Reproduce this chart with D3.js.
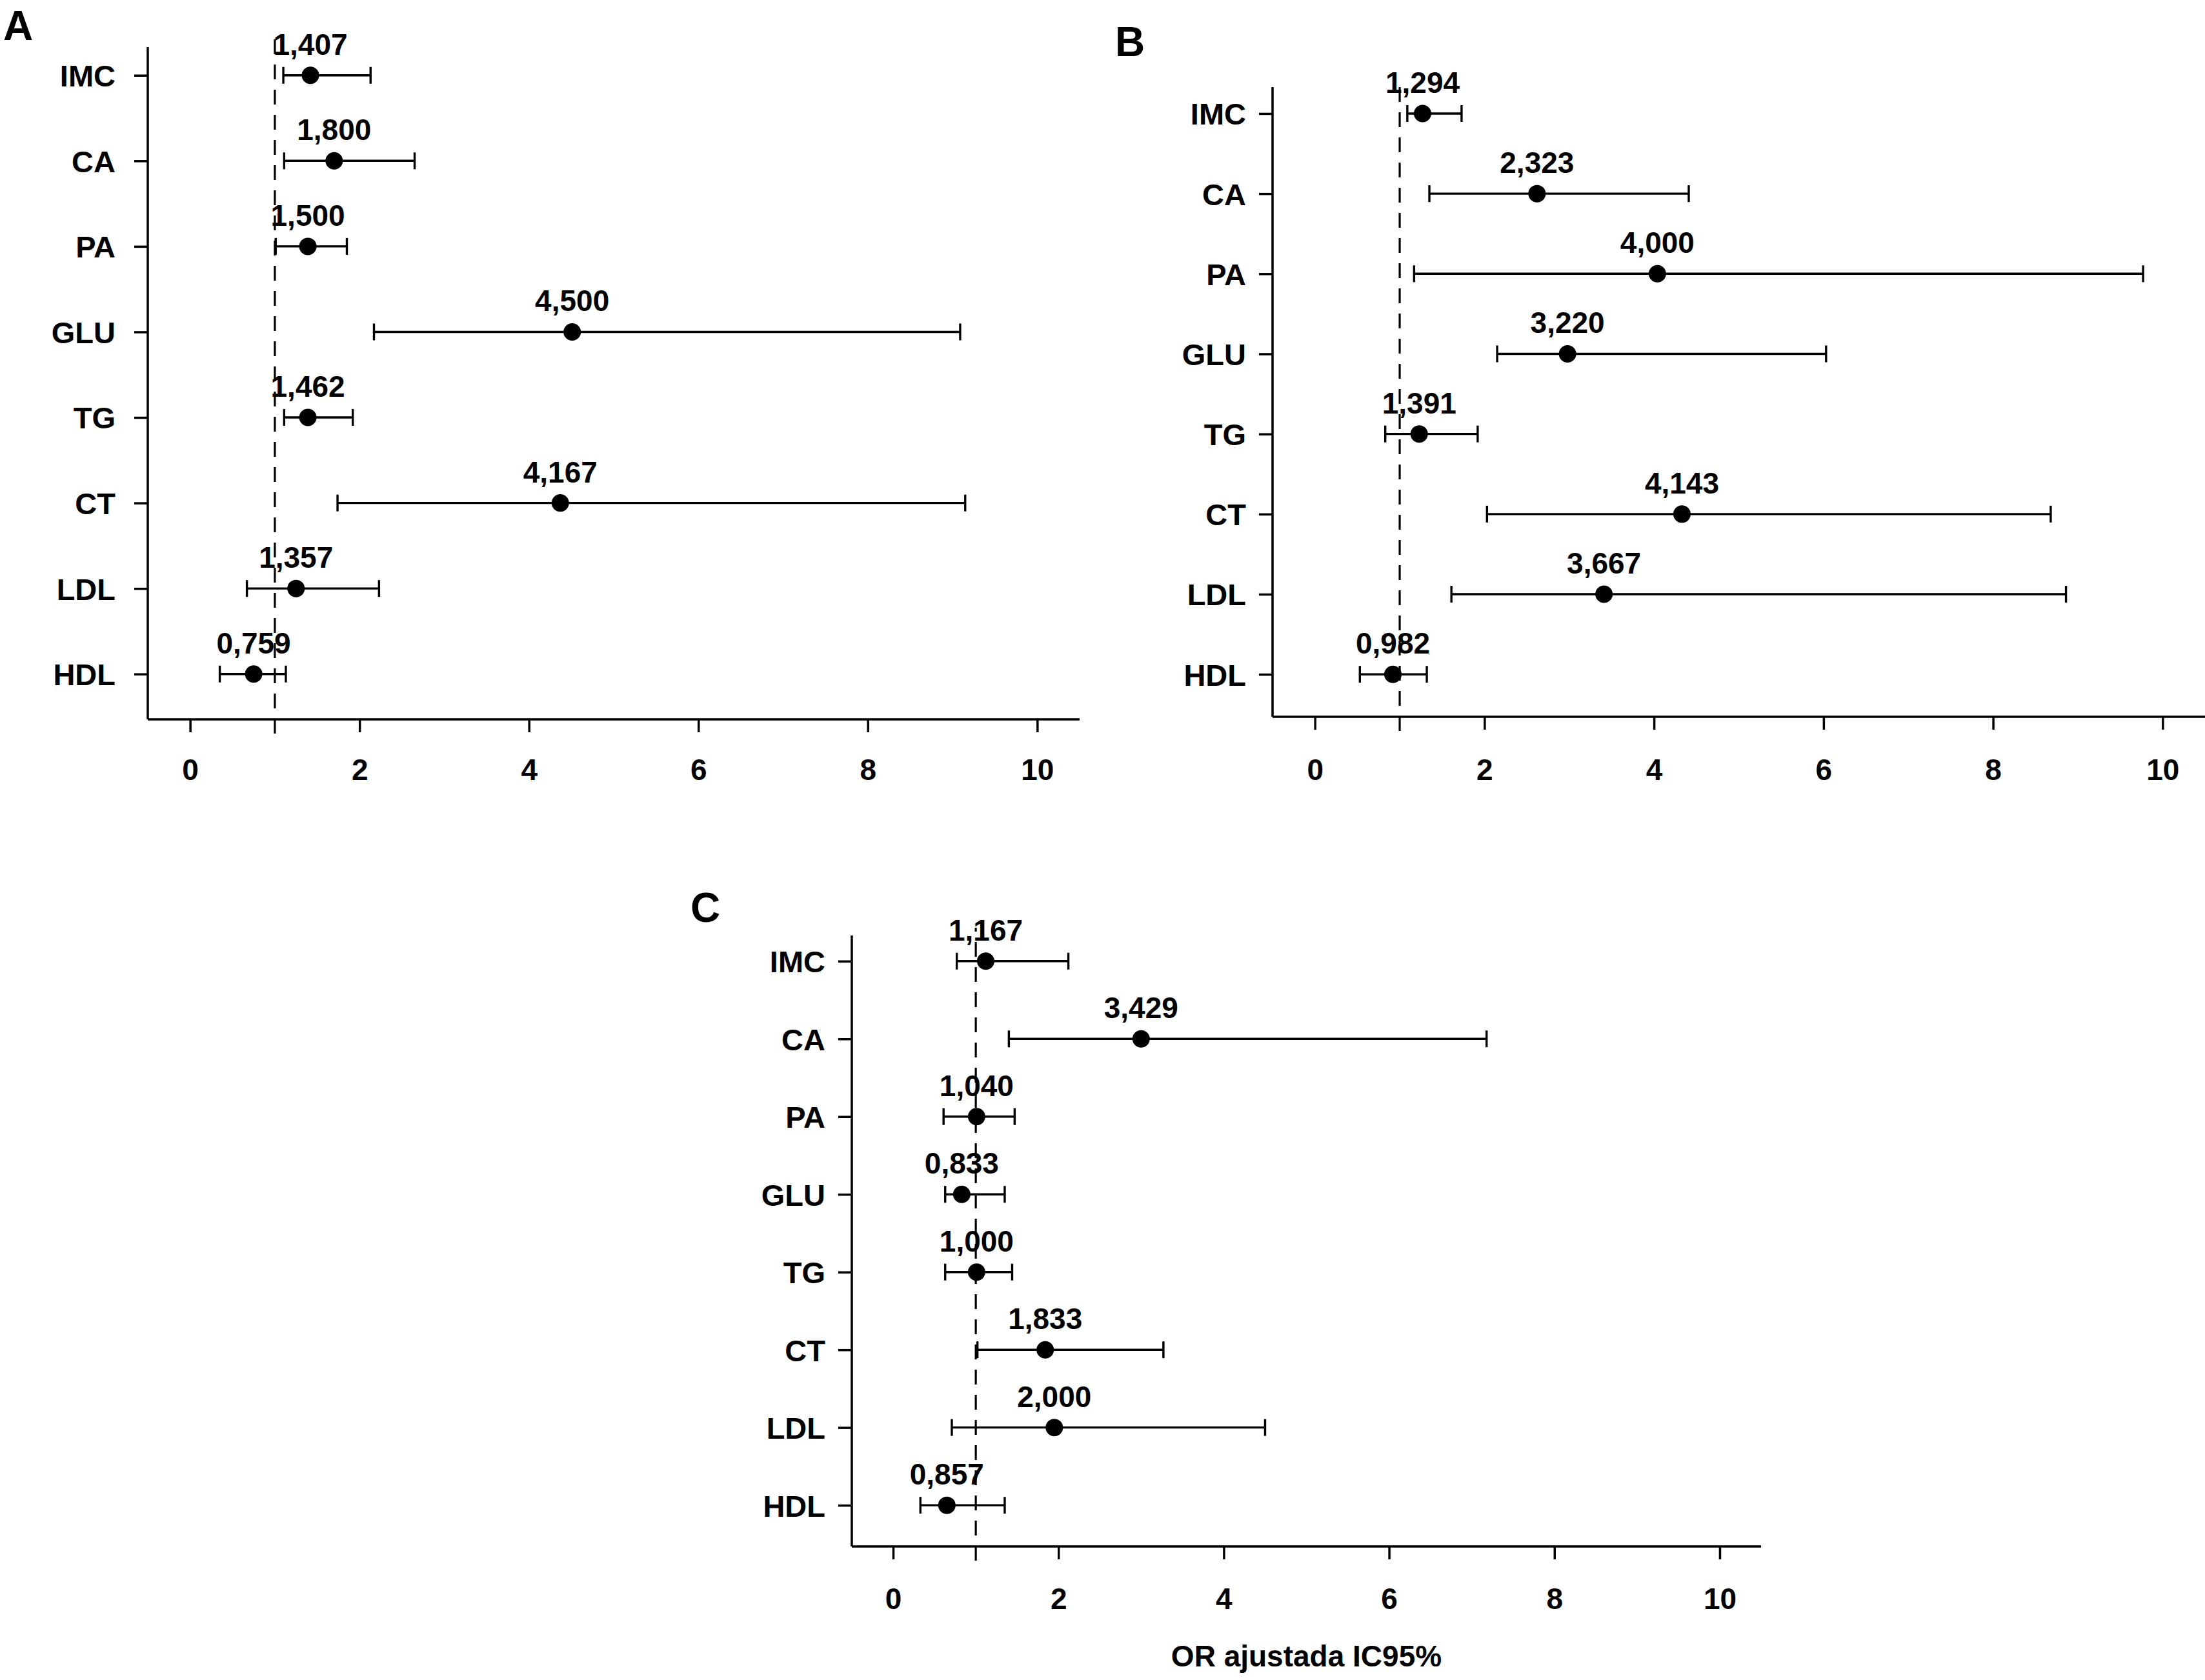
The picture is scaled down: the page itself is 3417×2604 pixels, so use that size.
<!DOCTYPE html>
<html>
<head>
<meta charset="utf-8">
<script src="https://cdn.jsdelivr.net/npm/d3@7"></script>
<style>
  body { margin: 0; background: #fff; }
  text { font-family: "Liberation Sans", Arial, Helvetica, sans-serif; font-weight: bold; fill: #000; }
</style>
</head>
<body>
<script>
const width = 3417;
const height = 2604;

const categories = ["IMC", "CA", "PA", "GLU", "TG", "CT", "LDL", "HDL"];
const xTicks = [0, 2, 4, 6, 8, 10];
const refValue = 1;

// panel A
const labelsA = ["1,407", "1,800", "1,500", "4,500", "1,462", "4,167", "1,357", "0,759"];
const orA = [1.42, 1.70, 1.39, 4.51, 1.39, 4.37, 1.25, 0.75];
const lowA = [1.10, 1.11, 1.01, 2.17, 1.11, 1.74, 0.67, 0.35];
const highA = [2.13, 2.65, 1.85, 9.09, 1.92, 9.15, 2.23, 1.13];

// panel B
const labelsB = ["1,294", "2,323", "4,000", "3,220", "1,391", "4,143", "3,667", "0,982"];
const orB = [1.27, 2.62, 4.04, 2.98, 1.23, 4.33, 3.41, 0.92];
const lowB = [1.09, 1.35, 1.17, 2.15, 0.83, 2.03, 1.61, 0.53];
const highB = [1.73, 4.41, 9.77, 6.03, 1.92, 8.68, 8.86, 1.32];

// panel C
const labelsC = ["1,167", "3,429", "1,040", "0,833", "1,000", "1,833", "2,000", "0,857"];
const orC = [1.12, 3.00, 1.01, 0.83, 1.01, 1.84, 1.95, 0.65];
const lowC = [0.77, 1.40, 0.61, 0.63, 0.63, 1.02, 0.71, 0.33];
const highC = [2.12, 7.18, 1.47, 1.35, 1.44, 3.27, 4.50, 1.35];

const svg = d3.select(document.body)
  .append("svg")
  .attr("width", width)
  .attr("height", height)
  .attr("viewBox", [0, 0, width, height]);

svg.append("rect").attr("width", width).attr("height", height).attr("fill", "#fff");

const fontSize = 46;
const r = 13.5;
const cap = 13;

function drawPanel(p) {
  const rows = categories.map((c, i) => ({
    cat: c, pos: i + 1, or: p.or[i], low: p.low[i], high: p.high[i], label: p.labels[i]
  }));

  const x = d3.scaleLinear().domain([-0.5, 10.5]).range([p.left, p.right]);
  const y = d3.scaleLinear().domain([0.67, 8.53]).range([p.top, p.bottom]);

  const g = svg.append("g");

  // panel letter
  g.append("text")
    .attr("x", p.letterX)
    .attr("y", p.letterY)
    .attr("font-size", 64)
    .text(p.letter);

  // x axis
  const xAxis = g.append("g")
    .attr("transform", "translate(0," + p.bottom + ")")
    .call(d3.axisBottom(x).tickValues(xTicks).tickSize(20).tickPadding(p.xPad).tickFormat(d3.format("d")));
  xAxis.select(".domain").attr("d", "M" + p.left + ",0H" + p.right);

  // y axis
  const yAxis = g.append("g")
    .attr("transform", "translate(" + p.left + ",0)")
    .call(d3.axisLeft(y).tickValues(rows.map(d => d.pos)).tickSize(21).tickPadding(p.yPad)
      .tickFormat((d, i) => categories[i]));
  yAxis.select(".domain").attr("d", "M0," + p.top + "V" + p.bottom);

  g.selectAll(".domain, .tick line")
    .attr("stroke", "#000")
    .attr("stroke-width", 3.5);
  g.selectAll(".tick text")
    .attr("font-size", fontSize)
    .attr("font-family", "Liberation Sans, Arial, sans-serif")
    .attr("font-weight", "bold")
    .attr("fill", "#000");
  yAxis.selectAll(".tick text").attr("font-size", 47).attr("dy", "0.36em");
  xAxis.selectAll(".tick text").attr("dy", "0");

  // reference line at OR = 1
  g.append("line")
    .attr("x1", x(refValue)).attr("x2", x(refValue))
    .attr("y1", p.bottom + 22).attr("y2", p.top - 12)
    .attr("stroke", "#000")
    .attr("stroke-width", 3.2)
    .attr("stroke-dasharray", "23,16");

  const ci = g.append("g").attr("stroke", "#000").attr("stroke-width", 3.4);

  ci.selectAll(".ci")
    .data(rows)
    .join("line")
    .attr("x1", d => x(d.low)).attr("x2", d => x(d.high))
    .attr("y1", d => y(d.pos)).attr("y2", d => y(d.pos));

  ci.selectAll(".capL")
    .data(rows)
    .join("line")
    .attr("x1", d => x(d.low)).attr("x2", d => x(d.low))
    .attr("y1", d => y(d.pos) - cap).attr("y2", d => y(d.pos) + cap);

  ci.selectAll(".capR")
    .data(rows)
    .join("line")
    .attr("x1", d => x(d.high)).attr("x2", d => x(d.high))
    .attr("y1", d => y(d.pos) - cap).attr("y2", d => y(d.pos) + cap);

  g.append("g").selectAll("circle")
    .data(rows)
    .join("circle")
    .attr("cx", d => x(d.or))
    .attr("cy", d => y(d.pos))
    .attr("r", r)
    .attr("fill", "#000");

  g.append("g").selectAll("text")
    .data(rows)
    .join("text")
    .attr("x", d => x(d.or))
    .attr("y", d => y(d.pos) - 32)
    .attr("text-anchor", "middle")
    .attr("font-size", fontSize)
    .text(d => d.label);

  if (p.title) {
    g.append("text")
      .attr("x", (p.left + p.right) / 2)
      .attr("y", p.bottom + 186)
      .attr("text-anchor", "middle")
      .attr("font-size", fontSize)
      .text(p.title);
  }
}

drawPanel({
  letter: "A", letterX: 5, letterY: 62,
  left: 229, right: 1673, top: 73, bottom: 1115, xPad: 74, yPad: 29,
  labels: labelsA, or: orA, low: lowA, high: highA
});

drawPanel({
  letter: "B", letterX: 1728, letterY: 87,
  left: 1972, right: 3417, top: 135, bottom: 1111, xPad: 78, yPad: 20,
  labels: labelsB, or: orB, low: lowB, high: highB
});

drawPanel({
  letter: "C", letterX: 1070, letterY: 1429,
  left: 1320, right: 2729, top: 1450, bottom: 2397, xPad: 77, yPad: 20,
  labels: labelsC, or: orC, low: lowC, high: highC,
  title: "OR ajustada IC95%"
});
</script>
</body>
</html>
